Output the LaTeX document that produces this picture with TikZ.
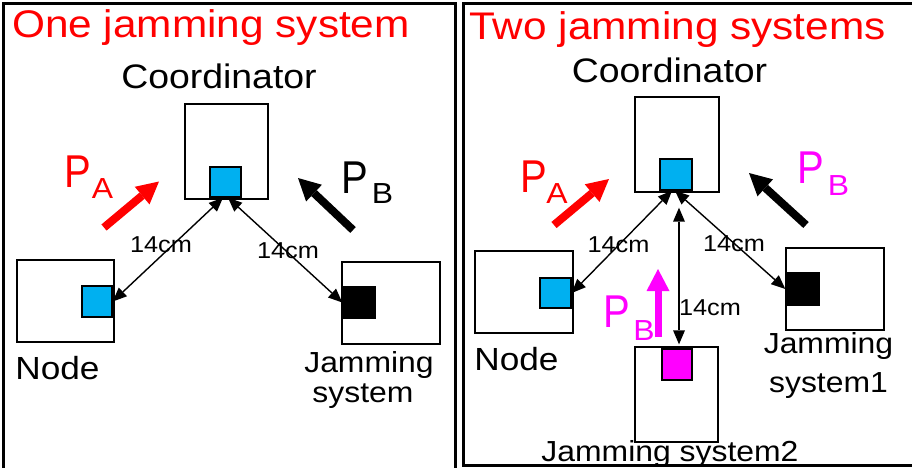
\documentclass[tikz,border=0pt]{standalone}
\usepackage{fontspec}
\setmainfont[FakeStretch=1.1]{Liberation Sans}
\newfontfamily\tallfont[FakeStretch=0.87]{Liberation Sans}
\usetikzlibrary{arrows.meta}
\definecolor{chipblue}{HTML}{00B0F0}
\definecolor{jammag}{HTML}{FF00FF}

\begin{document}
\begin{tikzpicture}[x=1pt,y=-1pt,
  unit/.style={draw,line width=1.4pt,fill=white,inner sep=0pt},
  chip/.style={draw,line width=1.4pt,inner sep=0pt},
  link/.style={{Triangle[length=14pt,width=12pt,line width=0pt]}-{Triangle[length=14pt,width=12pt,line width=0pt]},line width=1.4pt},
  push/.style={-{Triangle[length=22pt,width=23pt,line width=0pt]},line width=8pt},
  heading/.style={inner sep=0pt,anchor=base,text=red,font=\fontsize{38.5}{46}\selectfont},
  devtxt/.style={inner sep=0pt,anchor=base,font=\fontsize{34}{40}\selectfont},
  smalltxt/.style={inner sep=0pt,anchor=base,font=\fontsize{29}{34}\selectfont},
  disttxt/.style={inner sep=0pt,anchor=base,font=\fontsize{23}{27}\selectfont},
  bigP/.style={inner sep=0pt,anchor=base,font=\tallfont\fontsize{46}{52}\selectfont},
]
\useasboundingbox (0.000000,0.000000) rectangle (912.000000,467.000000);
\clip (0.000000,0.000000) rectangle (912.000000,467.000000);
\fill[white] (0.000000,0.000000) rectangle (912.000000,467.000000);
% Frames
\draw[line width=3pt] (3.000000,3.000000) rectangle (455.000000,480.000000);
\draw[line width=3pt] (463.500000,3.000000) rectangle (930.000000,465.000000);

% Left frame: one jamming system
\node[heading] (titleL) at (211.000000,37.500000) {One jamming system};
\node[devtxt] (coordLname) at (219.000000,88.000000) {Coordinator};
\node[unit,minimum width=83pt,minimum height=95pt] (coordL) at (226.500000,151.500000) {};
\node[chip,fill=chipblue,minimum width=31pt,minimum height=30pt] (sqCL) at (225.500000,182.000000) {};
\node[unit,minimum width=97pt,minimum height=82pt] (nodeL) at (65.500000,301.000000) {};
\node[chip,fill=chipblue,minimum width=30pt,minimum height=31pt] (sqNL) at (97.000000,301.500000) {};
\node[unit,minimum width=98pt,minimum height=82pt] (jamL) at (391.000000,303.000000) {};
\node[chip,fill=black,minimum width=32pt,minimum height=31pt] (sqJL) at (359.000000,302.500000) {};
\node[devtxt,font=\fontsize{32}{38}\selectfont] (nodeLname) at (57.500000,379.000000) {Node};
\node[smalltxt] (jamLname) at (369.000000,372.000000) {Jamming};
\node[smalltxt] (jamLname2) at (363.000000,402.000000) {system};
% Links
\draw[link] ([xshift=-2.5pt]sqCL.south) -- (sqNL.east);
\draw[link] ([xshift=2.5pt]sqCL.south) -- (sqJL.west);
\node[disttxt] (distNL) at (161.000000,252.500000) {14cm};
\node[disttxt] (distJL) at (288.000000,258.000000) {14cm};
% Power arrows
\coordinate (pAtailL) at (104.000000,227.500000);
\coordinate (pAtipL) at (159.000000,181.500000);
\draw[push,red] (pAtailL) -- (pAtipL);
\node[bigP,text=red] (pAL) at (77.500000,187.000000) {P};
\node[smalltxt,text=red] (pAsubL) at (102.500000,198.000000) {A};
\coordinate (pBtailL) at (353.000000,230.000000);
\coordinate (pBtipL) at (298.000000,178.000000);
\draw[push,black] (pBtailL) -- (pBtipL);
\node[bigP] (pBL) at (354.500000,193.000000) {P};
\node[smalltxt] (pBsubL) at (382.500000,203.000000) {B};

% Right frame: two jamming systems
\node[heading] (titleR) at (677.500000,39.500000) {Two jamming systems};
\node[devtxt] (coordRname) at (669.500000,82.000000) {Coordinator};
\node[unit,minimum width=84pt,minimum height=95pt] (coordR) at (677.000000,144.500000) {};
\node[chip,fill=chipblue,minimum width=32pt,minimum height=31pt] (sqCR) at (676.000000,174.500000) {};
\node[unit,minimum width=98pt,minimum height=82pt] (nodeR) at (524.000000,292.000000) {};
\node[chip,fill=chipblue,minimum width=31pt,minimum height=30pt] (sqNR) at (555.500000,293.000000) {};
\node[unit,minimum width=98pt,minimum height=82pt] (jamR1) at (835.000000,289.000000) {};
\node[chip,fill=black,minimum width=33pt,minimum height=32pt] (sqJR1) at (802.500000,289.000000) {};
\node[unit,minimum width=83pt,minimum height=95pt] (jamR2) at (676.500000,394.500000) {};
\node[chip,fill=jammag,minimum width=30pt,minimum height=31pt] (sqJR2) at (677.000000,364.500000) {};
\node[devtxt,font=\fontsize{32}{38}\selectfont] (nodeRname) at (516.500000,370.000000) {Node};
\node[smalltxt] (jamR1name) at (828.500000,353.000000) {Jamming};
\node[smalltxt] (jamR1name2) at (828.500000,392.500000) {system1};
\node[smalltxt] (jamR2name) at (670.000000,461.000000) {Jamming system2};
% Links
\draw[link] ([xshift=-4pt]sqCR.south) -- (sqNR.east);
\draw[link] ([xshift=-1pt]sqCR.south) -- (sqJR1.west);
\draw[link,shorten <=17pt,shorten >=2pt] ([xshift=3pt]sqCR.south) -- ([xshift=2.5pt]jamR2.north);
\node[disttxt] (distNR) at (618.500000,252.500000) {14cm};
\node[disttxt] (distJR1) at (734.000000,251.500000) {14cm};
\node[disttxt] (distJR2) at (710.000000,315.000000) {14cm};
% Power arrows
\coordinate (pAtailR) at (554.000000,225.000000);
\coordinate (pAtipR) at (609.000000,179.000000);
\draw[push,red] (pAtailR) -- (pAtipR);
\node[bigP,text=red] (pAR) at (533.500000,192.000000) {P};
\node[smalltxt,text=red] (pAsubR) at (557.000000,203.000000) {A};
\coordinate (pBtailR) at (806.000000,225.000000);
\coordinate (pBtipR) at (749.000000,173.000000);
\draw[push,black] (pBtailR) -- (pBtipR);
\node[bigP,text=jammag] (pBR) at (810.500000,183.000000) {P};
\node[smalltxt,text=jammag] (pBsubR) at (838.500000,195.000000) {B};
\coordinate (pBtailR2) at (658.000000,337.000000);
\coordinate (pBtipR2) at (658.000000,269.000000);
\draw[push,jammag,line width=7pt] (pBtailR2) -- (pBtipR2);
\node[bigP,text=jammag] (pBR2) at (617.000000,327.000000) {P};
\node[smalltxt,text=jammag] (pBsubR2) at (644.000000,340.000000) {B};
\end{tikzpicture}
\end{document}
